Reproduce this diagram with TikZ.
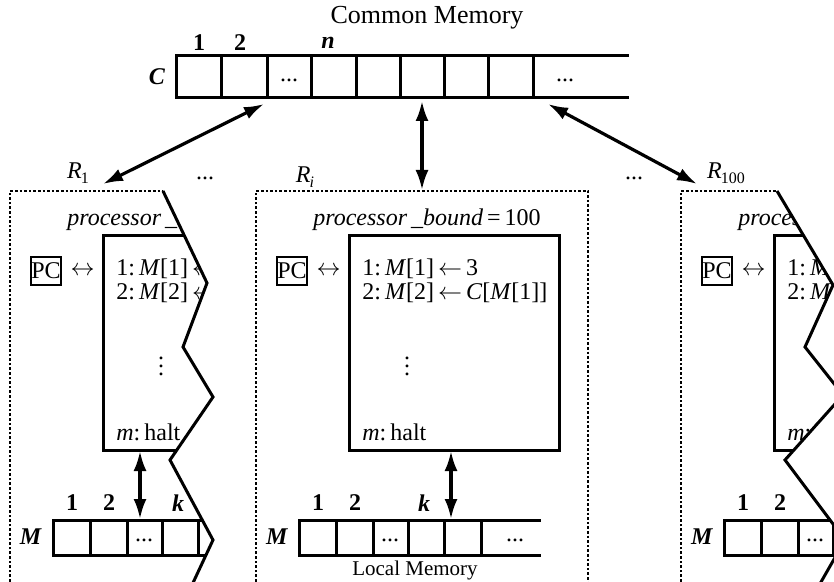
\documentclass[tikz,border=0pt]{standalone}
\usepackage{fontspec}
\setmainfont{Liberation Serif}
\usetikzlibrary{arrows.meta, positioning, calc}

\tikzset{
  memline/.style={line width=1.5pt, line cap=rect},
  unitbox/.style={line width=1.3pt, densely dotted},
  progbox/.style={line width=1.5pt},
  tear/.style={line width=1.5pt, line join=miter},
  link/.style={line width=1.6pt, {Latex[length=10pt,width=6.5pt]}-{Latex[length=10pt,width=6.5pt]}},
  idx/.style={font=\fontsize{12}{14}\selectfont\bfseries, inner sep=0pt},
  prog/.style={font=\fontsize{12}{14}\selectfont, inner sep=0pt, anchor=west},
  plain/.style={font=\fontsize{12}{14}\selectfont, inner sep=0pt},
  pcbox/.style={draw, line width=1.3pt, minimum width=15pt, minimum height=14pt,
                inner sep=0pt, font=\fontsize{12}{14}\selectfont},
}

\newcommand{\rname}[1]{\textit{R}\kern-0.5pt\raisebox{-2.5pt}{\fontsize{8}{9}\selectfont #1}}

% one processor with its program and local memory
\newcommand{\procunit}[3]{%
  \begin{scope}[shift={(#1,0)}]
    \draw[unitbox] (0,600) -- (0,191) -- (332,191) -- (332,600);
    \node[plain] (#3-bound) at (171,220) {\textit{processor\,\_bound}\,=\,100};
    \draw[progbox] (93,236) rectangle (303,450);
    \node[pcbox] (#3-pc) at (36,271) {PC};
    \node[plain, right=4pt of #3-pc] (#3-lr) {$\leftrightarrow$};
    \node[prog] (#3-l1) at (106,269) {1:\,\textit{M}[1]\,$\leftarrow$\,3};
    \node[prog] (#3-l2) at (106,293) {2:\,\textit{M}[2]\,$\leftarrow$\,\textit{C}[\textit{M}[1]]};
    \node[plain] (#3-vd) at (151,360) {$\vdots$};
    \node[prog] (#3-halt) at (106,432) {\textit{m}:\,halt};
    % local memory
    \draw[memline] (43,520) -- (283,520) (43,555) -- (283,555);
    \foreach \x in {43,80,117,152,188,225}
      \draw[memline] (\x,520) -- (\x,555);
    \node[idx] (#3-i1) at (62,503) {1};
    \node[idx] (#3-i2) at (99,503) {2};
    \node[idx] (#3-ik) at (168,503) {\textit{k}};
    \node[idx] (#3-m) at (21,537) {\textit{M}};
    \node[plain] (#3-d1) at (134,540) {...};
    \node[plain] (#3-d2) at (259,540) {...};
    \coordinate (#3-out) at (#2,451);
    \coordinate (#3-cell) at (#2,519);
    \draw[link] (#3-out) -- (#3-cell);
  \end{scope}}

\begin{document}
\begin{tikzpicture}[x=0.5pt, y=-0.5pt]
  \useasboundingbox (0,0) rectangle (834,582);
  \clip (0,0) rectangle (834,582);

  % common memory
  \node[font=\fontsize{13}{15}\selectfont] (title) at (427,18) {Common Memory};
  \draw[memline] (176,56) -- (627,56) (176,98) -- (627,98);
  \foreach \x in {176,221,267,311,356,400,444,488,533}
    \draw[memline] (\x,56) -- (\x,98);
  \node[idx] (c) at (157,77) {\textit{C}};
  \node[idx] (ci1) at (199,43) {1};
  \node[idx] (ci2) at (240,43) {2};
  \node[idx] (cin) at (328,43) {\textit{n}};
  \node[plain] (cd1) at (289,80) {...};
  \node[plain] (cd2) at (565,80) {...};

  % processors
  \begin{scope}
    \clip (-5,180) -- (161,180) -- (163,190) -- (207,283) -- (183,347) -- (213,397)
          -- (170,460) -- (213,540) -- (185,600) -- (-5,600) -- cycle;
    \procunit{10}{130}{pl}
  \end{scope}
  \draw[tear] (163,191) -- (207,283) -- (183,347) -- (213,397) -- (170,460)
              -- (213,540) -- (185,600);

  \procunit{256}{195}{pm}
  \node[font=\fontsize{10.5}{12}\selectfont] (local) at (415,570) {Local Memory};

  \begin{scope}
    \clip (670,180) -- (775,180) -- (777,191) -- (833,285) -- (805,347) -- (843,395)
          -- (785,460) -- (845,540) -- (805,610) -- (670,610) -- cycle;
    \procunit{681}{195}{pr}
  \end{scope}
  \draw[tear] (777,191) -- (833,285) -- (805,347) -- (843,395) -- (785,460)
              -- (845,540) -- (805,610);

  % labels above processors
  \node[plain] (r1) at (78,173) {\rname{1}};
  \node[plain] (ri) at (305,177) {\rname{\textit{i}}};
  \node[plain] (r100) at (726,173) {\rname{100}};
  \node[plain] (gap1) at (205,178) {...};
  \node[plain] (gap2) at (634,178) {...};

  % links to common memory
  \coordinate (cl) at (264,104);
  \coordinate (cm) at (422,101);
  \coordinate (cr) at (548,104);
  \coordinate (pl-top) at (103,184);
  \coordinate (pm-top) at (422,190);
  \coordinate (pr-top) at (697,184);
  \draw[link] (cl) -- (pl-top);
  \draw[link] (cm) -- (pm-top);
  \draw[link] (cr) -- (pr-top);
\end{tikzpicture}
\end{document}
